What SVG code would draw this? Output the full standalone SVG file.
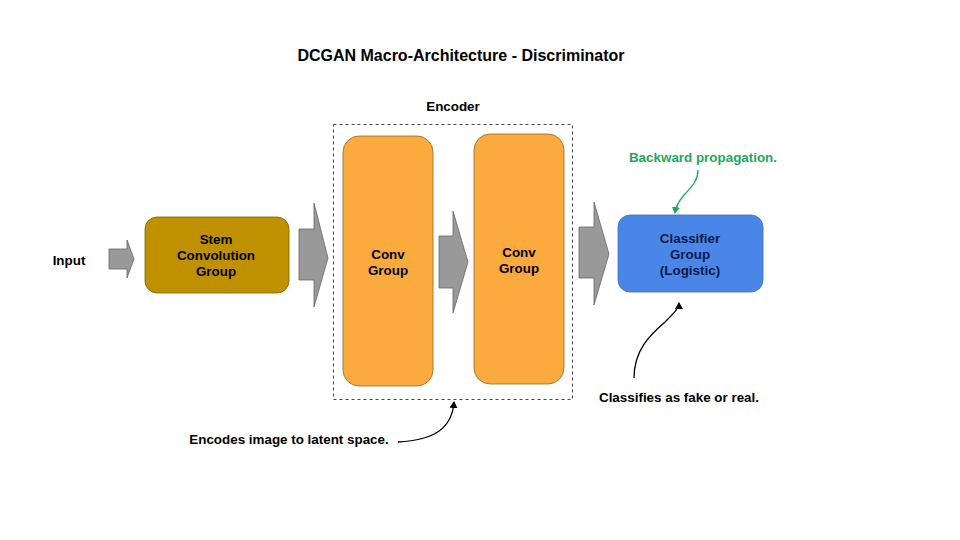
<svg xmlns="http://www.w3.org/2000/svg" width="960" height="540" viewBox="0 0 960 540">
<defs>
<style>
text{font-family:"Liberation Sans",Arial,sans-serif;font-weight:bold;font-size:13.4px;fill:#000;}
.c{text-anchor:middle;}
.arrow{fill:#999999;stroke:#666666;stroke-width:0.8;}
.conv{fill:#fbaa3e;stroke:#8a6a2a;stroke-width:0.8;}
.conn{fill:none;stroke-width:1.3;}
</style>
<marker id="ahB" markerWidth="8" markerHeight="8" refX="6" refY="4" orient="auto" markerUnits="userSpaceOnUse"><path d="M0,0 L7,4 L0,8 Z" fill="#000"/></marker>
<marker id="ahG" markerWidth="8" markerHeight="8" refX="6" refY="4" orient="auto" markerUnits="userSpaceOnUse"><path d="M0,0 L7,4 L0,8 Z" fill="#1ea85a"/></marker>
</defs>
<rect width="960" height="540" fill="#fff"/>
<text x="461" y="61" class="c" style="font-size:16px">DCGAN Macro-Architecture - Discriminator</text>

<g id="input"><text x="69" y="265" class="c">Input</text></g>
<g id="arrows">
<path class="arrow" d="M109,249 H127 V240 L134,259 L127,278 V269 H109 Z"/>
<path class="arrow" d="M299,229 H314 V203 L328,258 L314,307 V280 H299 Z"/>
<path class="arrow" d="M439,236 H453 V211 L468,262 L453,313 V288 H439 Z"/>
<path class="arrow" d="M579,227 H594 V202 L609,254 L594,305 V278 H579 Z"/>
</g>
<g id="stem">
<rect x="145" y="217" width="144" height="76" rx="12" fill="#bf9000" stroke="#7f6000" stroke-width="0.8"/>
<text x="216" y="244" class="c">Stem</text>
<text x="216" y="260" class="c">Convolution</text>
<text x="216" y="276" class="c">Group</text>
</g>
<g id="encoder">
<rect x="333.5" y="124.5" width="239" height="275" fill="none" stroke="#444" stroke-width="1" stroke-dasharray="3,3"/>
<text x="453" y="111" class="c">Encoder</text>
</g>
<g id="conv1">
<rect class="conv" x="343" y="136" width="90" height="250" rx="16"/>
<text x="388" y="259" class="c">Conv</text>
<text x="388" y="275" class="c">Group</text>
</g>
<g id="conv2">
<rect class="conv" x="474" y="134" width="90" height="250" rx="16"/>
<text x="519" y="257" class="c">Conv</text>
<text x="519" y="273" class="c">Group</text>
</g>
<g id="classifier">
<rect x="618" y="215" width="145" height="77" rx="12" fill="#4a86e8" stroke="#3c6dbf" stroke-width="0.8"/>
<text x="690" y="243" class="c" style="fill:#0c1a4a">Classifier</text>
<text x="690" y="259" class="c" style="fill:#0c1a4a">Group</text>
<text x="690" y="275" class="c" style="fill:#0c1a4a">(Logistic)</text>
</g>
<g id="notes">
<text x="703" y="162" class="c" style="fill:#1ea85a">Backward propagation.</text>
<text x="679" y="402" class="c">Classifies as fake or real.</text>
<text x="289" y="444" class="c">Encodes image to latent space.</text>
</g>
<g id="connectors">
<path class="conn" stroke="#1ea85a" d="M698,170 C698,182 690,188 684,195 C678,202 676,206 675,213" marker-end="url(#ahG)"/>
<path class="conn" stroke="#000" d="M634,378 C634,350 650,335 665,322 C675,312 679,308 679,303" marker-end="url(#ahB)"/>
<path class="conn" stroke="#000" d="M398,442 C435,440 452,428 454,402" marker-end="url(#ahB)"/>
</g>
</svg>
